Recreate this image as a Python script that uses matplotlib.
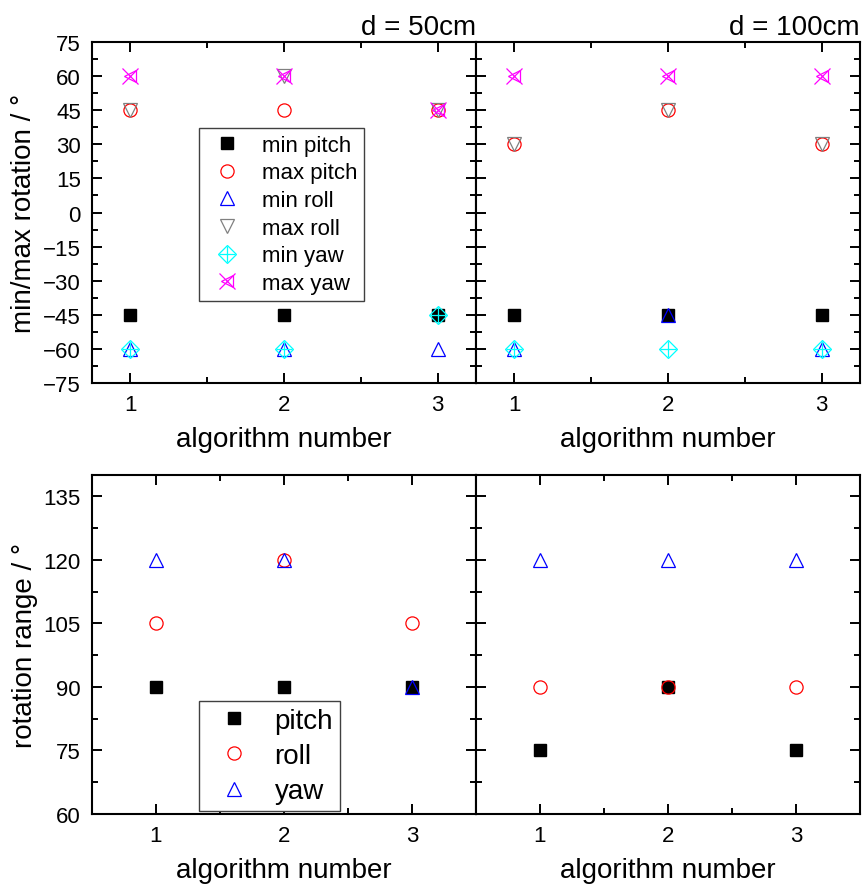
import matplotlib
matplotlib.use('Agg')
import matplotlib.pyplot as plt
from matplotlib.ticker import MultipleLocator

plt.rcParams['font.family'] = ['Liberation Sans', 'DejaVu Sans']

# data
algorithms = [1, 2, 3]

# d = 50cm
min_pitch_50 = [-45, -45, -45]
max_pitch_50 = [45, 45, 45]
min_roll_50 = [-60, -60, -60]
max_roll_50 = [45, 60, 45]
min_yaw_50 = [-60, -60, -45]
max_yaw_50 = [60, 60, 45]

# d = 100cm
min_pitch_100 = [-45, -45, -45]
max_pitch_100 = [30, 45, 30]
min_roll_100 = [-60, -45, -60]
max_roll_100 = [30, 45, 30]
min_yaw_100 = [-60, -60, -60]
max_yaw_100 = [60, 60, 60]

# rotation ranges
pitch_range_50 = [90, 90, 90]
roll_range_50 = [105, 120, 105]
yaw_range_50 = [120, 120, 90]
pitch_range_100 = [75, 90, 75]
roll_range_100 = [90, 90, 90]
yaw_range_100 = [120, 120, 120]

titles = ['d = 50cm', 'd = 100cm']

fig = plt.figure(figsize=(8.66, 8.95), dpi=100)
W = 0.4434
ax_tl = fig.add_axes([0.1062, 0.5709, W, 0.3810])
ax_tr = fig.add_axes([0.1062 + W, 0.5709, W, 0.3810])
ax_bl = fig.add_axes([0.1062, 0.0894, W, 0.3788])
ax_br = fig.add_axes([0.1062 + W, 0.0894, W, 0.3788])

mew = 0.9


def style(ax, xlim, ylim, ymaj, show_y):
    ax.set_xlim(*xlim)
    ax.set_ylim(*ylim)
    ax.xaxis.set_major_locator(MultipleLocator(1))
    ax.xaxis.set_minor_locator(MultipleLocator(0.5))
    ax.yaxis.set_major_locator(MultipleLocator(ymaj))
    ax.yaxis.set_minor_locator(MultipleLocator(ymaj / 2))
    ax.tick_params(which='both', direction='in', top=True, right=True,
                   labelsize=16, width=1.4, pad=8)
    ax.tick_params(which='major', length=7.5)
    ax.tick_params(which='minor', length=4)
    for s in ax.spines.values():
        s.set_linewidth(1.5)
    if not show_y:
        ax.tick_params(labelleft=False)
    ax.set_xlabel('algorithm number', fontsize=20, labelpad=8)


def plot_minmax(ax, mnp, mxp, mnr, mxr, mny, mxy):
    h = []
    h.append(ax.plot(algorithms, mnp, 's', color='black', ms=8.5, ls='none')[0])
    h.append(ax.plot(algorithms, mxp, 'o', mfc='none', mec='red', ms=9.5, mew=mew, ls='none')[0])
    h.append(ax.plot(algorithms, mnr, '^', mfc='none', mec='blue', ms=10.5, mew=mew, ls='none')[0])
    h.append(ax.plot(algorithms, mxr, 'v', mfc='none', mec='gray', ms=10.5, mew=mew, ls='none')[0])
    d1 = ax.plot(algorithms, mny, 'D', mfc='none', mec='cyan', ms=9.5, mew=mew, ls='none')[0]
    d2 = ax.plot(algorithms, mny, '+', color='cyan', ms=12, mew=mew, ls='none')[0]
    h.append((d1, d2))
    y1 = ax.plot(algorithms, mxy, 'x', color='magenta', ms=11, mew=mew, ls='none')[0]
    y2 = ax.plot(algorithms, mxy, '<', mfc='none', mec='magenta', ms=9, mew=mew, ls='none')[0]
    h.append((y1, y2))
    return h


handles = plot_minmax(ax_tl, min_pitch_50, max_pitch_50, min_roll_50,
                      max_roll_50, min_yaw_50, max_yaw_50)
plot_minmax(ax_tr, min_pitch_100, max_pitch_100, min_roll_100,
            max_roll_100, min_yaw_100, max_yaw_100)

for ax, show_y, t in [(ax_tl, True, titles[0]), (ax_tr, False, titles[1])]:
    style(ax, (0.75, 3.25), (-75, 75), 15, show_y)
    ax.set_title(t, loc='right', fontsize=20, pad=6)

ax_tl.set_ylabel('min/max rotation / °', fontsize=20, labelpad=4)
leg1 = ax_tl.legend(handles, ['min pitch', 'max pitch', 'min roll', 'max roll', 'min yaw', 'max yaw'],
                    loc='upper left', bbox_to_anchor=(0.28, 0.748), borderaxespad=0,
                    fontsize=16, fancybox=False, edgecolor='#404040', framealpha=1,
                    labelspacing=0.3, handletextpad=0.6, borderpad=0.3,
                    handlelength=1.9)
leg1.get_frame().set_linewidth(1.0)


def plot_range(ax, p, r, y):
    h = []
    h.append(ax.plot(algorithms, p, 's', color='black', ms=8.5, ls='none')[0])
    h.append(ax.plot(algorithms, r, 'o', mfc='none', mec='red', ms=9.5, mew=mew, ls='none')[0])
    h.append(ax.plot(algorithms, y, '^', mfc='none', mec='blue', ms=10.5, mew=mew, ls='none')[0])
    return h


rh = plot_range(ax_bl, pitch_range_50, roll_range_50, yaw_range_50)
plot_range(ax_br, pitch_range_100, roll_range_100, yaw_range_100)

style(ax_bl, (0.5, 3.5), (60, 140), 15, True)
style(ax_br, (0.5, 3.5), (60, 140), 15, False)
ax_bl.set_ylabel('rotation range / °', fontsize=20, labelpad=4)
leg = ax_bl.legend(rh, ['pitch', 'roll', 'yaw'], loc='upper left',
                   bbox_to_anchor=(0.28, 0.333), borderaxespad=0, fontsize=20,
                   fancybox=False, edgecolor='#404040', framealpha=1,
                   labelspacing=0.33, handletextpad=0.45, borderpad=0.25,
                   handlelength=2.0)
leg.get_frame().set_linewidth(1.0)

fig.savefig('out.png', dpi=100)
